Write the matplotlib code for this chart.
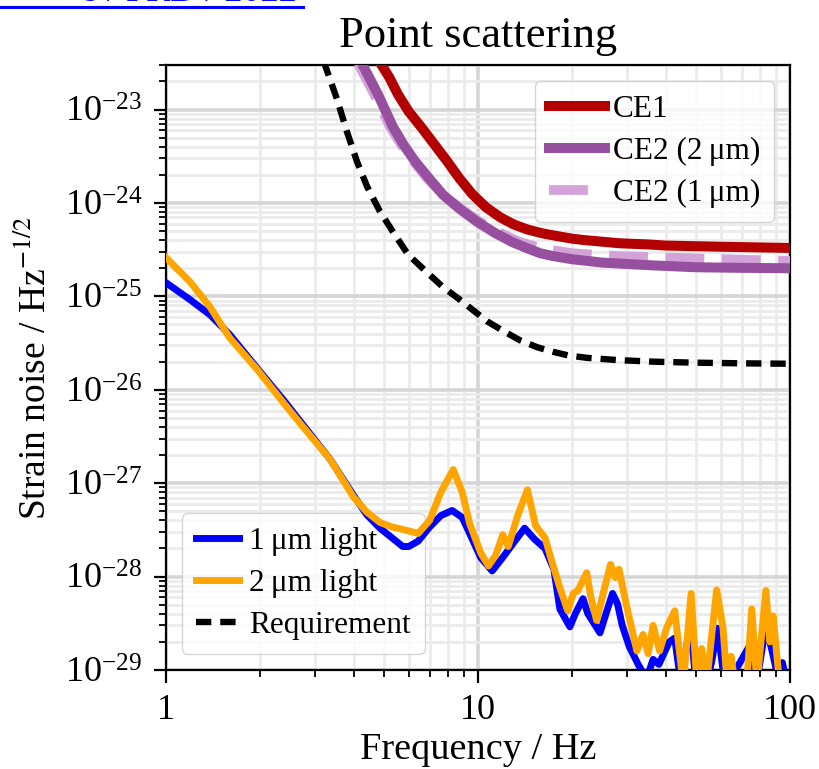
import numpy as np
import matplotlib
matplotlib.use("Agg")
import matplotlib.pyplot as plt
from matplotlib.ticker import FuncFormatter, LogLocator
from matplotlib.lines import Line2D

# scattering noise, 1 um light
f_1um = [1.0, 1.19, 1.38, 1.6, 1.96, 2.4, 2.75, 3.36, 3.98, 4.4, 4.85, 5.3,
         5.74, 6.0, 6.43, 7.0, 7.6, 8.26, 8.9, 9.4, 10.2, 11.1, 12.0, 13.0,
         14.1, 15.2, 16.4, 17.5, 18.3, 19.7, 20.5, 21.7, 22.5, 24.6, 26.0,
         27.0, 28.0, 29.0, 30.5, 32.6, 34.7, 36.4, 38.0, 41.0, 42.7, 44.5,
         48.0, 50.0, 54.0, 56.0, 58.6, 61.0, 63.0, 75.4, 78.0, 83.7, 88.0,
         92.6, 94.5, 98.0]
h_1um = [1.4e-25, 9.3e-26, 6.4e-26, 3.9e-26, 1.7e-26, 7.5e-27, 4.2e-27,
         1.8e-27, 7.5e-28, 4.6e-28, 3.3e-28, 2.6e-28, 2.1e-28, 2.1e-28,
         2.4e-28, 3.4e-28, 4.5e-28, 5.1e-28, 4.3e-28, 2.9e-28, 1.6e-28,
         1.15e-28, 1.6e-28, 2.3e-28, 3.3e-28, 2.5e-28, 2.0e-28, 1.2e-28,
         4.5e-29, 2.9e-29, 4.0e-29, 5.8e-29, 4.0e-29, 2.5e-29, 4.5e-29,
         6.6e-29, 5.1e-29, 3.0e-29, 1.8e-29, 1.15e-29, 0.8e-29, 1.3e-29,
         1.15e-29, 2.0e-29, 2.2e-29, 0.8e-29, 3.0e-29, 0.7e-29, 0.7e-29,
         1.2e-29, 2.8e-29, 1.0e-29, 0.7e-29, 2.0e-29, 0.7e-29, 3.0e-29,
         1.5e-29, 0.7e-29, 1.2e-29, 0.7e-29]

# scattering noise, 2 um light
f_2um = [1.0, 1.19, 1.38, 1.6, 1.96, 2.4, 2.75, 3.36, 3.98, 4.4, 4.85, 5.3,
         5.74, 6.43, 7.0, 7.6, 8.33, 8.9, 9.4, 10.2, 10.8, 11.4, 12.0, 12.5,
         13.4, 14.4, 15.3, 16.4, 17.3, 18.3, 19.4, 20.2, 20.9, 22.3, 23.0,
         24.0, 25.3, 26.6, 27.5, 28.3, 30.0, 32.3, 33.8, 35.1, 36.4, 38.2,
         40.2, 42.7, 45.5, 48.2, 50.3, 52.1, 54.0, 56.0, 58.2, 61.0, 62.9,
         64.8, 66.6, 72.6, 75.4, 78.3, 83.7, 86.2, 88.3, 92.6, 100.0]
h_2um = [2.6e-25, 1.45e-25, 7.8e-26, 3.6e-26, 1.65e-26, 7.0e-27, 4.0e-27,
         1.8e-27, 7.2e-28, 4.9e-28, 3.8e-28, 3.4e-28, 3.2e-28, 2.9e-28,
         4.0e-28, 8.0e-28, 1.4e-27, 8.0e-28, 3.7e-28, 1.8e-28, 1.3e-28,
         1.7e-28, 2.8e-28, 2.1e-28, 4.5e-28, 8.5e-28, 3.5e-28, 2.6e-28,
         1.4e-28, 7.6e-29, 4.3e-29, 6.6e-29, 7.1e-29, 1.1e-28, 6.0e-29,
         3.4e-29, 7.0e-29, 1.35e-28, 9.8e-29, 1.2e-28, 4.7e-29, 1.6e-29,
         2.4e-29, 1.5e-29, 3.0e-29, 1.6e-29, 2.8e-29, 4.3e-29, 0.7e-29,
         6.6e-29, 0.7e-29, 1.7e-29, 0.7e-29, 2.2e-29, 7.2e-29, 2.8e-29,
         0.7e-29, 1.4e-29, 0.7e-29, 0.7e-29, 4.5e-29, 0.7e-29, 7.1e-29,
         2.0e-29, 3.8e-29, 0.7e-29, 0.5e-29]

# requirement
f_req = [3.2, 3.53, 3.8, 4.09, 4.41, 4.85, 5.34, 5.97, 6.87, 7.7, 8.75,
         10.7, 12.0, 13.6, 15.5, 17.4, 19.5, 22.3, 28.0, 36.4, 50.0, 70.0,
         100.0]
h_req = [3.3e-23, 1.3e-23, 5.8e-24, 2.8e-24, 1.5e-24, 8.1e-25, 4.9e-25,
         2.8e-25, 1.8e-25, 1.27e-25, 9.2e-26, 5.4e-26, 4.3e-26, 3.4e-26,
         2.85e-26, 2.55e-26, 2.33e-26, 2.2e-26, 2.08e-26, 2.0e-26, 1.95e-26,
         1.92e-26, 1.9e-26]

# detector sensitivities
f_ce1 = [4.82, 5.2, 5.54, 6.0, 6.62, 7.3, 7.96, 8.7, 9.57, 10.6, 11.8, 13.0,
         14.4, 16.0, 17.4, 20.0, 22.0, 25.0, 28.5, 35.0, 40.0, 60.0, 100.0]
h_ce1 = [3.3e-23, 2.2e-23, 1.45e-23, 9.5e-24, 6.3e-24, 4.1e-24, 2.8e-24,
         1.85e-24, 1.25e-24, 9.0e-25, 7.0e-25, 5.9e-25, 5.2e-25, 4.75e-25,
         4.5e-25, 4.15e-25, 4.0e-25, 3.85e-25, 3.7e-25, 3.6e-25, 3.5e-25,
         3.4e-25, 3.3e-25]

f_ce2_2um = [4.25, 4.78, 5.34, 5.8, 6.28, 7.0, 7.73, 8.75, 9.93, 11.3, 12.9,
             14.3, 15.8, 17.4, 20.0, 25.0, 36.0, 50.0, 70.0, 100.0]
h_ce2_2um = [3.1e-23, 1.45e-23, 6.5e-24, 4.1e-24, 2.8e-24, 1.8e-24,
             1.22e-24, 8.6e-25, 6.3e-25, 4.8e-25, 3.8e-25, 3.3e-25, 2.9e-25,
             2.7e-25, 2.5e-25, 2.3e-25, 2.15e-25, 2.05e-25, 2.02e-25, 2.0e-25]

f_ce2_1um = [4.13, 4.65, 5.23, 5.7, 6.2, 6.9, 7.75, 8.8, 10.1, 11.6, 13.4,
             16.0, 20.0, 25.0, 30.0, 50.0, 76.0, 100.0]
h_ce2_1um = [3.1e-23, 1.45e-23, 6.5e-24, 4.1e-24, 2.8e-24, 1.8e-24,
             1.22e-24, 8.7e-25, 6.3e-25, 4.9e-25, 3.9e-25, 3.25e-25, 2.9e-25,
             2.75e-25, 2.68e-25, 2.55e-25, 2.45e-25, 2.4e-25]

plt.rcParams["font.family"] = ["Liberation Serif", "DejaVu Serif"]
plt.rcParams["mathtext.fontset"] = "stix"

fig = plt.figure(figsize=(8.19, 7.69), dpi=100)
ax = fig.add_axes([0.2027, 0.1287, 0.7619, 0.7868])

ax.set_xscale("log")
ax.set_yscale("log")

# CE curves
l_ce2_1 = ax.plot(f_ce2_1um, h_ce2_1um, color="#d2a2d8", lw=7,
                  dashes=(4.0, 1.8), label="CE2 (1\u2009\u03bcm)", zorder=3)[0]
l_ce1 = ax.plot(f_ce1, h_ce1, color="#b30000", lw=7.2, label="CE1",
                zorder=4)[0]
l_ce2_2 = ax.plot(f_ce2_2um, h_ce2_2um, color="#96509f", lw=7.2,
                  label="CE2 (2\u2009\u03bcm)", zorder=3.5)[0]

l_1um = ax.plot(f_1um, h_1um, color="blue", lw=5,
                label="1\u2009\u03bcm light", zorder=7)[0]
l_2um = ax.plot(f_2um, h_2um, color="orange", lw=5,
                label="2\u2009\u03bcm light", zorder=8)[0]
l_req = ax.plot(f_req, h_req, color="black", lw=4.6, dashes=(2.4, 1.4),
                label="Requirement", zorder=5)[0]

ax.set_xlim(1, 100)
ax.set_ylim(1e-29, 3e-23)

ax.grid(True, which="major", color="#d6d6d6", lw=2.6, zorder=0)
ax.grid(True, which="minor", color="#ebebeb", lw=2.0, zorder=0)
ax.set_axisbelow(True)

ax.xaxis.set_major_formatter(FuncFormatter(lambda v, p: "%g" % v))
ax.yaxis.set_major_locator(LogLocator(base=10, numticks=20))
ax.yaxis.set_minor_locator(LogLocator(base=10, subs=np.arange(2, 10),
                                      numticks=20))
ax.tick_params(which="major", direction="out", length=9, width=1.6,
               labelsize=26, pad=8)
ax.tick_params(which="minor", direction="out", length=5, width=1.3)
for s in ax.spines.values():
    s.set_linewidth(1.6)

ax.set_xlabel("Frequency / Hz", fontsize=27.5, labelpad=4)
ax.set_ylabel("Strain noise / Hz$^{-1/2}$", fontsize=27, labelpad=8)
ax.set_title("Point scattering", fontsize=32, pad=13)

leg1 = ax.legend(handles=[l_ce1, l_ce2_2, l_ce2_1], loc="upper right",
                 fontsize=22.5, handlelength=1.8, handletextpad=0.25,
                 borderpad=0.45, labelspacing=0.42)
ax.add_artist(leg1)
ax.legend(handles=[l_1um, l_2um, l_req], loc="lower left", fontsize=22.5,
          handlelength=1.4, handletextpad=0.3, borderpad=0.45,
          labelspacing=0.42)

# cropped link text at the very top of the page
fig.text(297 / 819, 1 - 1 / 769, "s / PRD / 2022", color="blue",
         fontsize=26, ha="right", va="baseline")
fig.add_artist(Line2D([0, 303 / 819], [1 - 6.5 / 769, 1 - 6.5 / 769],
                      color="blue", lw=2.2, transform=fig.transFigure))

fig.savefig("out.png", dpi=100)
